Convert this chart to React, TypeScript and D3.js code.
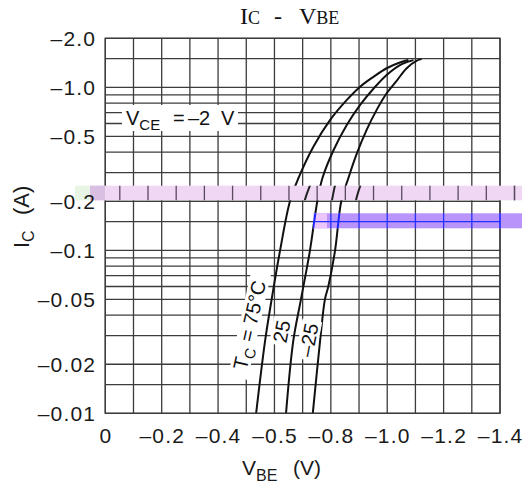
import * as d3 from 'd3'
import React from 'react'

// I_C - V_BE, V_CE = -2 V (PNP, so every value is negative)
const vbe75 = [-0.535, -0.567, -0.59, -0.62, -0.655, -0.685, -0.738, -0.797, -0.856, -0.904, -0.951, -0.998, -1.045, -1.075]
const ic75 = [-0.01, -0.028, -0.05, -0.1, -0.2, -0.277, -0.432, -0.63, -0.835, -1.01, -1.16, -1.31, -1.42, -1.47]

const vbe25 = [-0.641, -0.667, -0.694, -0.726, -0.752, -0.77, -0.809, -0.856, -0.904, -0.951, -0.998, -1.045, -1.093]
const ic25 = [-0.01, -0.028, -0.05, -0.1, -0.2, -0.277, -0.41, -0.585, -0.78, -0.98, -1.19, -1.37, -1.47]

const vbeM25 = [-0.736, -0.762, -0.779, -0.791, -0.815, -0.837, -0.862, -0.892, -0.927, -0.963, -0.998, -1.034, -1.069, -1.105, -1.122]
const icM25 = [-0.01, -0.028, -0.05, -0.06, -0.1, -0.2, -0.277, -0.392, -0.548, -0.73, -0.92, -1.1, -1.31, -1.46, -1.49]

const xGrid = [0, -0.1, -0.2, -0.3, -0.4, -0.5, -0.6, -0.7, -0.8, -0.9, -1.0, -1.1, -1.2, -1.3, -1.4]
const yGrid = [-0.01, -0.015, -0.02, -0.03, -0.04, -0.05, -0.06, -0.07, -0.08, -0.09, -0.1, -0.15, -0.2,
  -0.3, -0.4, -0.5, -0.6, -0.7, -0.8, -0.9, -1.0, -1.5, -2.0]

const xTicks = [0, -0.2, -0.4, -0.6, -0.8, -1.0, -1.2, -1.4]
const xTickLabels = ['0', '–0.2', '–0.4', '–0.5', '–0.8', '–1.0', '–1.2', '–1.4']
const yTicks = [-2.0, -1.0, -0.5, -0.2, -0.1, -0.05, -0.02, -0.01]
const yTickLabels = ['–2.0', '–1.0', '–0.5', '–0.2', '–0.1', '–0.05', '–0.02', '–0.01']

const W = 522
const H = 488
const sans = 'Liberation Sans, Arial, Helvetica, sans-serif'
const serif = 'Liberation Serif, Times New Roman, serif'

const x = d3.scaleLinear().domain([0, -1.4]).range([105.3, 500])
const y = d3.scaleLog().domain([-0.01, -2]).range([413.3, 38.3])

const series = [
  { v: vbe75, i: ic75 },
  { v: vbe25, i: ic25 },
  { v: vbeM25, i: icM25 }
]

const line = d3
  .line<[number, number]>()
  .x(d => x(d[0]))
  .y(d => y(d[1]))
  .curve(d3.curveCatmullRom.alpha(0.5))

const curvePaths = series.map(s => line(s.v.map((v, k) => [v, s.i[k]] as [number, number])) as string)

// grid + curves, reused for the coloured strips
function Lines({ color, curveColor, horizontal = true }: { color: string; curveColor: string; horizontal?: boolean }) {
  const [x0, x1] = x.range()
  const [y0, y1] = y.range()
  return (
    <g>
      {xGrid.map(v => (
        <line key={'vx' + v} x1={x(v)} x2={x(v)} y1={y1} y2={y0} stroke={color} strokeWidth={1.3} />
      ))}
      {horizontal &&
        yGrid.map(v => (
          <line key={'hy' + v} x1={x0} x2={x1} y1={y(v)} y2={y(v)} stroke={color} strokeWidth={1.3} />
        ))}
      {curvePaths.map((d, k) => (
        <path key={'c' + k} d={d} fill="none" stroke={curveColor} strokeWidth={2} />
      ))}
    </g>
  )
}

function RotLabel({ cx, cy, angle, len, children }: { cx: number; cy: number; angle: number; len: number; children: React.ReactNode }) {
  return (
    <g transform={`translate(${cx},${cy}) rotate(${angle})`}>
      <rect x={-len / 2 - 2} y={-10} width={len + 4} height={20} fill="#fff" />
      <text x={0} y={7} textAnchor="middle" fontFamily={sans} fontSize={20} fill="#111" style={{ whiteSpace: 'pre' }}>
        {children}
      </text>
    </g>
  )
}

export default function App() {
  const [x0, x1] = x.range()
  const [y0, y1] = y.range()
  const pink = { x: 90, y: 185.7, w: W - 90, h: 14.6 }
  const blue = { x: 313, y: 213.3, w: W - 313, h: 15 }

  return (
    <svg width={W} height={H} style={{ position: 'absolute', left: 0, top: 0 }}>
      <defs>
        <clipPath id="pinkClip">
          <rect x={pink.x} y={pink.y} width={pink.w} height={pink.h} />
        </clipPath>
        <clipPath id="blueClip">
          <rect x={blue.x} y={blue.y} width={blue.w} height={blue.h} />
        </clipPath>
      </defs>
      <rect width={W} height={H} fill="#fff" />

      <Lines color="#3c3c3c" curveColor="#111" />
      <rect x={x0} y={y1} width={x1 - x0} height={y0 - y1} fill="none" stroke="#3c3c3c" strokeWidth={1.4} />

      {/* V_CE box */}
      <rect x={122} y={105} width={116} height={26} fill="#fff" />
      <text x={126} y={125} fontFamily={sans} fontSize={20} fill="#111">
        <tspan>V</tspan>
        <tspan fontSize={15} dy={5}>CE</tspan>
        <tspan x={173} dy={-5}>=</tspan>
        <tspan x={188}>–2</tspan>
        <tspan x={221}>V</tspan>
      </text>

      {/* temperature labels */}
      <RotLabel cx={x(-0.5115)} cy={y(-0.0348)} angle={-77.5} len={104}>
        <tspan>T</tspan>
        <tspan fontSize={15} dy={5}>C</tspan>
        <tspan dy={-5}>{' = 75°C'}</tspan>
      </RotLabel>
      <RotLabel cx={x(-0.625)} cy={y(-0.0318)} angle={-79} len={24}>
        25
      </RotLabel>
      <RotLabel cx={x(-0.721)} cy={y(-0.0282)} angle={-79} len={36}>
        –25
      </RotLabel>

      {/* pink strip (shifted copy) */}
      <rect x={75} y={pink.y} width={15} height={pink.h} fill="#e8f5e4" />
      <rect x={pink.x} y={pink.y} width={pink.w} height={pink.h} fill="#f0d7f4" />
      <rect x={pink.x} y={pink.y} width={15} height={pink.h} fill="#d9bfe2" />
      <g clipPath="url(#pinkClip)">
        <g transform="translate(14.5,0)">
          <Lines color="#5a4a5e" curveColor="#222" horizontal={false} />
          <line x1={x1} x2={x1} y1={y1} y2={y0} stroke="#5a4a5e" strokeWidth={1.3} />
        </g>
      </g>

      {/* blue strip */}
      <rect x={blue.x} y={blue.y} width={blue.w} height={blue.h} fill="#b994fb" />
      <rect x={blue.x} y={blue.y} width={14} height={blue.h} fill="#ecc6fb" />
      <g clipPath="url(#blueClip)">
        <Lines color="#2430ff" curveColor="#1a26ff" />
        <line x1={x1} x2={x1} y1={y1} y2={y0} stroke="#2430ff" strokeWidth={1.3} />
      </g>

      {/* ticks */}
      {xTicks.map((v, k) => (
        <text key={'xt' + v} x={x(v) + 0.6} y={443} textAnchor="middle" fontFamily={sans} fontSize={21}
          letterSpacing={1.2} fill="#1a1a1a">
          {xTickLabels[k]}
        </text>
      ))}
      {yTicks.map((v, k) => (
        <text key={'yt' + v} x={96.2} y={y(v) + 7.5} textAnchor="end" fontFamily={sans} fontSize={21}
          letterSpacing={1.2} fill="#1a1a1a">
          {yTickLabels[k]}
        </text>
      ))}

      {/* titles */}
      <text x={240} y={24} fontFamily={serif} fontSize={24} fill="#111">
        <tspan>I</tspan>
        <tspan fontSize={18}>C</tspan>
        <tspan x={274}>-</tspan>
        <tspan x={299}>V</tspan>
        <tspan fontSize={18}>BE</tspan>
      </text>
      <text x={242} y={475} fontFamily={sans} fontSize={21} fill="#1a1a1a">
        <tspan>V</tspan>
        <tspan fontSize={16} dy={6}>BE</tspan>
        <tspan x={293} dy={-6}>(V)</tspan>
      </text>
      <text transform="translate(29,248) rotate(-90)" fontFamily={sans} fontSize={22} fill="#1a1a1a">
        <tspan>I</tspan>
        <tspan fontSize={16} dy={5}>C</tspan>
        <tspan x={33} dy={-5}>(A)</tspan>
      </text>
    </svg>
  )
}
